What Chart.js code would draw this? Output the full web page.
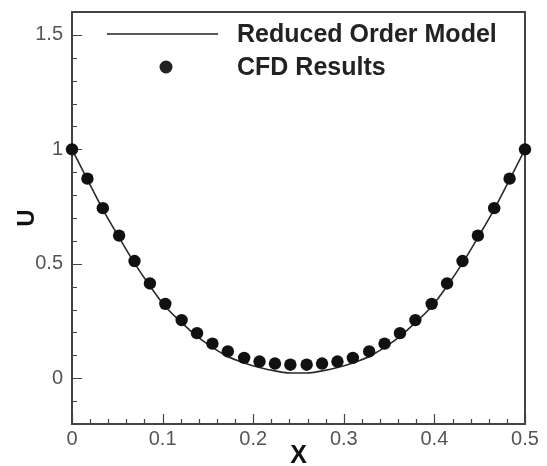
<!DOCTYPE html>
<html>
<head>
<meta charset="utf-8">
<script src="https://cdn.jsdelivr.net/npm/chart.js@4/dist/chart.umd.min.js"></script>
<style>
  html, body { margin: 0; padding: 0; background: #fff; }
  #wrap { width: 547px; height: 466px; }
</style>
</head>
<body>
<div id="wrap"><canvas id="uChart" width="547" height="466"></canvas></div>
<script>
// x positions of the samples
const xPos = [0, 0.017, 0.034, 0.052, 0.069, 0.086, 0.103, 0.121, 0.138, 0.155,
              0.172, 0.19, 0.207, 0.224, 0.241, 0.259, 0.276, 0.293, 0.31, 0.328,
              0.345, 0.362, 0.379, 0.397, 0.414, 0.431, 0.448, 0.466, 0.483, 0.5];

// Reduced Order Model (line)
const romU = [1.0, 0.868, 0.738, 0.615, 0.503, 0.403, 0.313, 0.243, 0.183, 0.135,
              0.095, 0.067, 0.047, 0.032, 0.023, 0.023, 0.032, 0.047, 0.067, 0.095,
              0.135, 0.183, 0.243, 0.313, 0.403, 0.503, 0.615, 0.738, 0.868, 1.0];

// CFD Results (dots)
const cfdU = [1.0, 0.872, 0.743, 0.623, 0.512, 0.414, 0.325, 0.254, 0.197, 0.151,
              0.117, 0.089, 0.073, 0.064, 0.059, 0.059, 0.064, 0.073, 0.089, 0.117,
              0.151, 0.197, 0.254, 0.325, 0.414, 0.512, 0.623, 0.743, 0.872, 1.0];

const xTicks = [0, 0.1, 0.2, 0.3, 0.4, 0.5];
const yTicks = [0, 0.5, 1, 1.5];

const seriesNames = ["Reduced Order Model", "CFD Results"];

const FONT = "'Liberation Sans', Arial, sans-serif";
const AXIS_COLOR = "#444";

// frame + inward ticks
const framePlugin = {
    id: "frame",
    beforeDatasetsDraw(chart) {
        const ctx = chart.ctx;
        const a = chart.chartArea;
        const xs = chart.scales.x, ys = chart.scales.y;
        ctx.save();
        ctx.strokeStyle = AXIS_COLOR;
        ctx.lineWidth = 2;
        ctx.strokeRect(a.left, a.top, a.right - a.left, a.bottom - a.top);

        ctx.lineWidth = 1.2;
        ctx.beginPath();
        // x ticks: major every 0.1, minor every 0.02
        for (let i = 0; i <= 25; i++) {
            const v = i * 0.02;
            const px = Math.round(xs.getPixelForValue(v)) + 0.5;
            const len = (i % 5 === 0) ? 10 : 5;
            ctx.moveTo(px, a.bottom);
            ctx.lineTo(px, a.bottom - len);
        }
        // y ticks: major every 0.5, minor every 0.1
        for (let i = -2; i <= 16; i++) {
            const v = i * 0.1;
            const py = Math.round(ys.getPixelForValue(v)) + 0.5;
            const len = (i % 5 === 0) ? 10 : 5;
            ctx.moveTo(a.left, py);
            ctx.lineTo(a.left + len, py);
        }
        ctx.stroke();
        ctx.restore();
    },
    afterDraw(chart) {
        // legend inside plot, top-left
        const ctx = chart.ctx;
        const a = chart.chartArea;
        ctx.save();
        ctx.fillStyle = "#222";
        ctx.strokeStyle = "#222";
        ctx.font = "bold 25px " + FONT;
        ctx.textBaseline = "middle";
        ctx.textAlign = "left";

        const y1 = a.top + 22;
        ctx.lineWidth = 1.6;
        ctx.beginPath();
        ctx.moveTo(a.left + 35, y1);
        ctx.lineTo(a.left + 146, y1);
        ctx.stroke();
        ctx.fillText(seriesNames[0], a.left + 165, y1 + 1);

        const y2 = a.top + 55;
        ctx.beginPath();
        ctx.arc(a.left + 94, y2, 6.5, 0, Math.PI * 2);
        ctx.fill();
        ctx.fillText(seriesNames[1], a.left + 165, y2 + 1);
        ctx.restore();
    }
};

const ctx = document.getElementById("uChart").getContext("2d");
const myChart = new Chart(ctx, {
    type: "scatter",
    data: {
        datasets: [{
            label: seriesNames[0],
            data: xPos.map((x, i) => ({ x: x, y: romU[i] })),
            showLine: true,
            borderColor: "#2a2a2a",
            borderWidth: 1.6,
            pointRadius: 0,
            cubicInterpolationMode: "monotone",
            order: 2
        }, {
            label: seriesNames[1],
            data: xPos.map((x, i) => ({ x: x, y: cfdU[i] })),
            backgroundColor: "#111",
            borderColor: "#111",
            pointRadius: 6.2,
            pointBorderWidth: 0,
            clip: false,
            order: 1
        }]
    },
    options: {
        responsive: false,
        animation: false,
        layout: { padding: { top: 12, right: 22, left: 0, bottom: 0 } },
        plugins: {
            legend: { display: false },
            tooltip: { enabled: false }
        },
        scales: {
            x: {
                type: "linear",
                min: 0,
                max: 0.5,
                afterBuildTicks: s => { s.ticks = xTicks.map(v => ({ value: v })); },
                afterFit: s => { s.height = 42; s.paddingLeft = 0; s.paddingRight = 0; },
                grid: { display: false, drawTicks: false },
                border: { display: false },
                ticks: {
                    padding: 3,
                    color: "#555",
                    font: { family: FONT, size: 20 },
                    maxRotation: 0,
                    callback: v => String(v)
                },
                title: {
                    display: true,
                    text: "X",
                    color: "#111",
                    font: { family: FONT, size: 25, weight: "bold", lineHeight: 0.8 },
                    padding: { top: 0, bottom: 0 }
                }
            },
            y: {
                type: "linear",
                min: -0.2,
                max: 1.6,
                afterBuildTicks: s => { s.ticks = yTicks.map(v => ({ value: v })); },
                afterFit: s => { s.width = 72; s.paddingTop = 0; s.paddingBottom = 0; },
                grid: { display: false, drawTicks: false },
                border: { display: false },
                ticks: {
                    padding: 9,
                    color: "#555",
                    font: { family: FONT, size: 20 },
                    callback: v => String(v)
                },
                title: {
                    display: true,
                    text: "U",
                    color: "#111",
                    font: { family: FONT, size: 24, weight: "bold", lineHeight: 1.2 },
                    padding: { top: 13, bottom: 0 }
                }
            }
        }
    },
    plugins: [framePlugin]
});
</script>
</body>
</html>
